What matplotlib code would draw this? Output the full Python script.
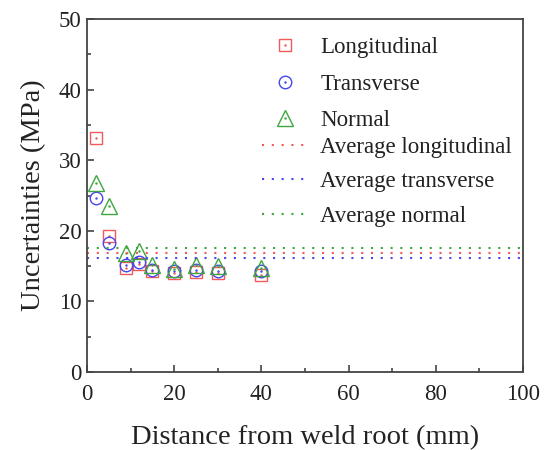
import matplotlib
matplotlib.use("Agg")
import matplotlib.pyplot as plt
from matplotlib.legend_handler import HandlerTuple
from matplotlib.ticker import MultipleLocator

plt.rcParams['font.family'] = ['Liberation Serif', 'DejaVu Serif']

distance = [2, 5, 9, 12, 15, 20, 25, 30, 40]
longitudinal = [33.2, 19.2, 14.8, 15.3, 14.3, 14.0, 14.1, 14.0, 13.8]
transverse = [24.6, 18.3, 15.1, 15.6, 14.5, 14.3, 14.4, 14.3, 14.3]
normal = [26.7, 23.5, 16.9, 17.1, 15.1, 14.6, 15.1, 15.0, 14.7]
avg_longitudinal = 16.9
avg_transverse = 16.1
avg_normal = 17.5

red = '#f25a5a'
blue = '#4646ee'
green = '#3ea63e'

W, H = 549, 450
fig = plt.figure(figsize=(W / 100, H / 100), dpi=100)
ax = fig.add_axes([87 / W, 78 / H, 436 / W, 353 / H])

handles = []
for ys, mk, col, ms in [(longitudinal, 's', red, 9),
                        (transverse, 'o', blue, 9),
                        (normal, '^', green, 11)]:
    h1, = ax.plot(distance, ys, linestyle='none', marker=mk, ms=ms,
                  mfc='none', mec=col, mew=1.0)
    h2, = ax.plot(distance, ys, linestyle='none', marker='.', ms=1.5,
                  color=col)
    handles.append((h1, h2))

dots = (0, (1, 3.7))
lines = []
for val, col in [(avg_longitudinal, red), (avg_transverse, blue),
                 (avg_normal, green)]:
    ln = ax.axhline(val, color=col, linestyle=dots, lw=1.5)
    lines.append(ln)

leg_kw = dict(loc='upper left', frameon=False, fontsize=16.5,
              borderpad=0, borderaxespad=0, handlelength=2.0,
              handletextpad=0.55, bbox_transform=fig.transFigure)
leg1 = ax.legend(handles, ['Longitudinal', 'Transverse', 'Normal'],
                 bbox_to_anchor=(262 / W, 1 - 37 / H), labelspacing=0.68,
                 handler_map={tuple: HandlerTuple(ndivide=1)}, **leg_kw)
ax.add_artist(leg1)
leg2 = ax.legend(lines, ['Average longitudinal', 'Average transverse',
                         'Average normal'],
                 bbox_to_anchor=(262 / W, 1 - 137 / H), labelspacing=0.58,
                 **leg_kw)
for leg in (leg1, leg2):
    for t in leg.get_texts():
        t.set_color('#222222')

ax.set_xlim(0, 100)
ax.set_ylim(0, 50)
ax.xaxis.set_major_locator(MultipleLocator(20))
ax.xaxis.set_minor_locator(MultipleLocator(10))
ax.yaxis.set_major_locator(MultipleLocator(10))
ax.yaxis.set_minor_locator(MultipleLocator(5))
ax.tick_params(which='both', direction='in', top=False, right=False,
               labelsize=16.5, colors='#444444', labelcolor='#222222',
               width=1.2)
ax.tick_params(axis='x', pad=9)
ax.tick_params(axis='y', pad=4)
ax.tick_params(which='major', length=5)
ax.tick_params(which='minor', length=3)
for sp in ax.spines.values():
    sp.set_color('#444444')
    sp.set_linewidth(1.3)

ax.set_xlabel('Distance from weld root (mm)', fontsize=20.5, color='#222222',
              labelpad=14)
ax.set_ylabel('Uncertainties (MPa)', fontsize=20.5, color='#222222',
              labelpad=9)

fig.savefig('out.png', dpi=100)
